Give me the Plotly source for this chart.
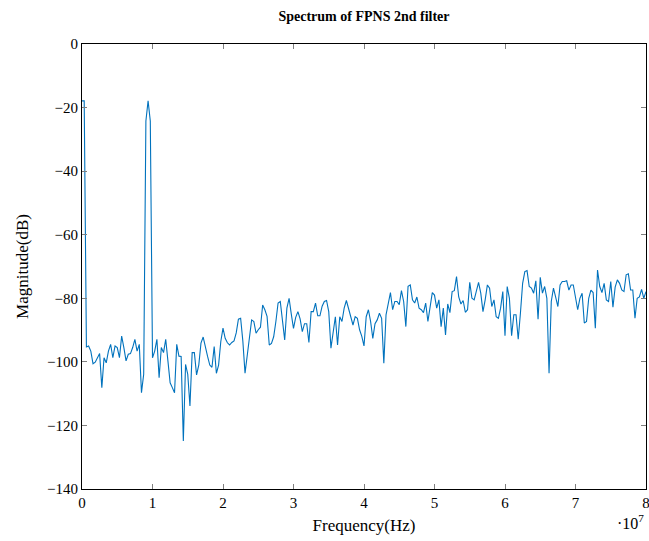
import numpy as np
import plotly.graph_objects as go

# Spectrum samples: 257 bins from 0 to 80 MHz (bin width 312.5 kHz)
fs = 160e6
nfft = 512

mag_db = [
    -17.9, -17.9, -95.3, -95.0, -96.6, -100.6, -100.1, -98.7, -97.4, -108.1,
    -98.7, -100.3, -96.6, -94.5, -98.7, -95.0, -95.5, -98.7, -91.9, -95.5,
    -99.7, -97.6, -97.4, -95.5, -92.9, -96.6, -94.5, -109.7, -103.9, -24.2,
    -17.9, -24.2, -98.7, -96.6, -92.9, -105.0, -95.5, -97.1, -92.9, -99.7,
    -106.6, -108.1, -109.7, -94.5, -98.2, -98.3, -124.9, -100.8, -103.9, -113.9,
    -97.1, -97.1, -104.1, -101.0, -94.1, -92.2, -95.7, -98.3, -101.0, -101.7,
    -95.2, -103.6, -101.0, -93.6, -89.4, -92.6, -94.0, -94.7, -93.9, -93.4,
    -90.9, -86.6, -86.3, -93.4, -103.6, -98.3, -93.1, -86.8, -87.3, -91.0,
    -89.9, -89.1, -82.1, -83.6, -85.7, -94.7, -94.2, -92.1, -87.3, -81.5,
    -81.0, -86.8, -93.1, -83.1, -80.0, -85.0, -89.5, -86.0, -84.2, -86.5,
    -90.5, -88.0, -88.0, -93.9, -84.2, -84.2, -81.5, -85.5, -85.5, -82.5,
    -81.0, -80.7, -84.2, -95.7, -91.0, -85.8, -94.7, -85.8, -87.3, -83.1,
    -80.7, -83.1, -85.2, -88.4, -85.8, -86.3, -89.9, -92.0, -95.0, -85.8,
    -83.6, -87.3, -92.6, -88.0, -86.8, -84.7, -86.3, -100.4, -85.2, -81.5,
    -78.2, -83.6, -81.0, -81.0, -82.0, -77.6, -81.0, -88.9, -76.2, -75.8,
    -80.5, -81.5, -79.6, -83.1, -83.6, -84.5, -81.5, -87.3, -82.0, -78.2,
    -79.0, -83.1, -80.5, -88.9, -83.1, -91.5, -81.8, -84.5, -77.9, -77.6,
    -73.2, -79.6, -81.8, -80.7, -84.4, -83.6, -75.0, -80.0, -80.5, -77.9,
    -75.0, -78.4, -84.2, -80.5, -75.8, -76.8, -82.6, -80.5, -85.8, -86.3,
    -83.1, -77.9, -91.8, -76.3, -80.0, -91.8, -85.2, -85.2, -92.9, -84.7,
    -75.3, -71.6, -71.3, -76.3, -76.8, -78.4, -74.5, -86.6, -73.4, -78.4,
    -76.3, -80.0, -103.6, -81.0, -76.8, -79.6, -82.6, -75.8, -74.7, -74.7,
    -74.5, -77.4, -75.8, -75.8, -79.6, -83.6, -80.0, -78.4, -87.8, -87.3,
    -80.0, -77.4, -78.2, -89.4, -71.1, -76.3, -78.2, -75.3, -80.5, -81.0,
    -74.7, -82.8, -76.5, -74.2, -75.3, -77.4, -77.9, -72.6, -72.3, -77.4,
    -77.4, -86.3, -80.0, -79.6, -77.2, -80.0, -77.9,
]

freq_hz = np.arange(len(mag_db)) * fs / nfft

x_tick_vals = [0, 1e7, 2e7, 3e7, 4e7, 5e7, 6e7, 7e7, 8e7]
x_tick_text = ["0", "1", "2", "3", "4", "5", "6", "7", "8"]
y_tick_vals = [0, -20, -40, -60, -80, -100, -120, -140]

serif = "Liberation Serif, DejaVu Serif, serif"

fig = go.Figure()
fig.add_trace(go.Scatter(
    x=freq_hz, y=mag_db, mode="lines",
    line=dict(color="#0072BD", width=1.1),
    showlegend=False,
))

axis_common = dict(
    showline=True, linecolor="black", linewidth=1, mirror="ticks",
    ticks="inside", ticklen=5, tickcolor="#7f7f7f", tickwidth=1,
    showgrid=False, zeroline=False, ticklabeloverflow="allow",
    automargin=False,
    tickfont=dict(family=serif, size=15, color="black"),
)

fig.update_layout(
    width=649, height=541,
    margin=dict(l=82, r=3, t=44, b=52),
    paper_bgcolor="white", plot_bgcolor="white",
    title=dict(
        text="<b>Spectrum of FPNS 2nd filter</b>",
        x=0.5, xref="paper", xanchor="center",
        y=(541 - 16) / 541, yref="container", yanchor="middle",
        font=dict(family=serif, size=14, color="black"),
    ),
    xaxis=dict(
        range=[0, 8e7], tickvals=x_tick_vals, ticktext=x_tick_text,
        title=dict(text="Frequency(Hz)", standoff=9,
                   font=dict(family=serif, size=17, color="black")),
        **axis_common,
    ),
    yaxis=dict(
        range=[-140, 0], tickvals=y_tick_vals,
        title=dict(text="Magnitude(dB)", standoff=14,
                   font=dict(family=serif, size=17, color="black")),
        **axis_common,
    ),
    annotations=[dict(
        text="·10<sup>7</sup>", xref="paper", yref="paper",
        x=1.0, y=-0.075, xanchor="right", yanchor="middle",
        showarrow=False, font=dict(family=serif, size=16, color="black"),
    )],
)

fig.write_html("out.html")
